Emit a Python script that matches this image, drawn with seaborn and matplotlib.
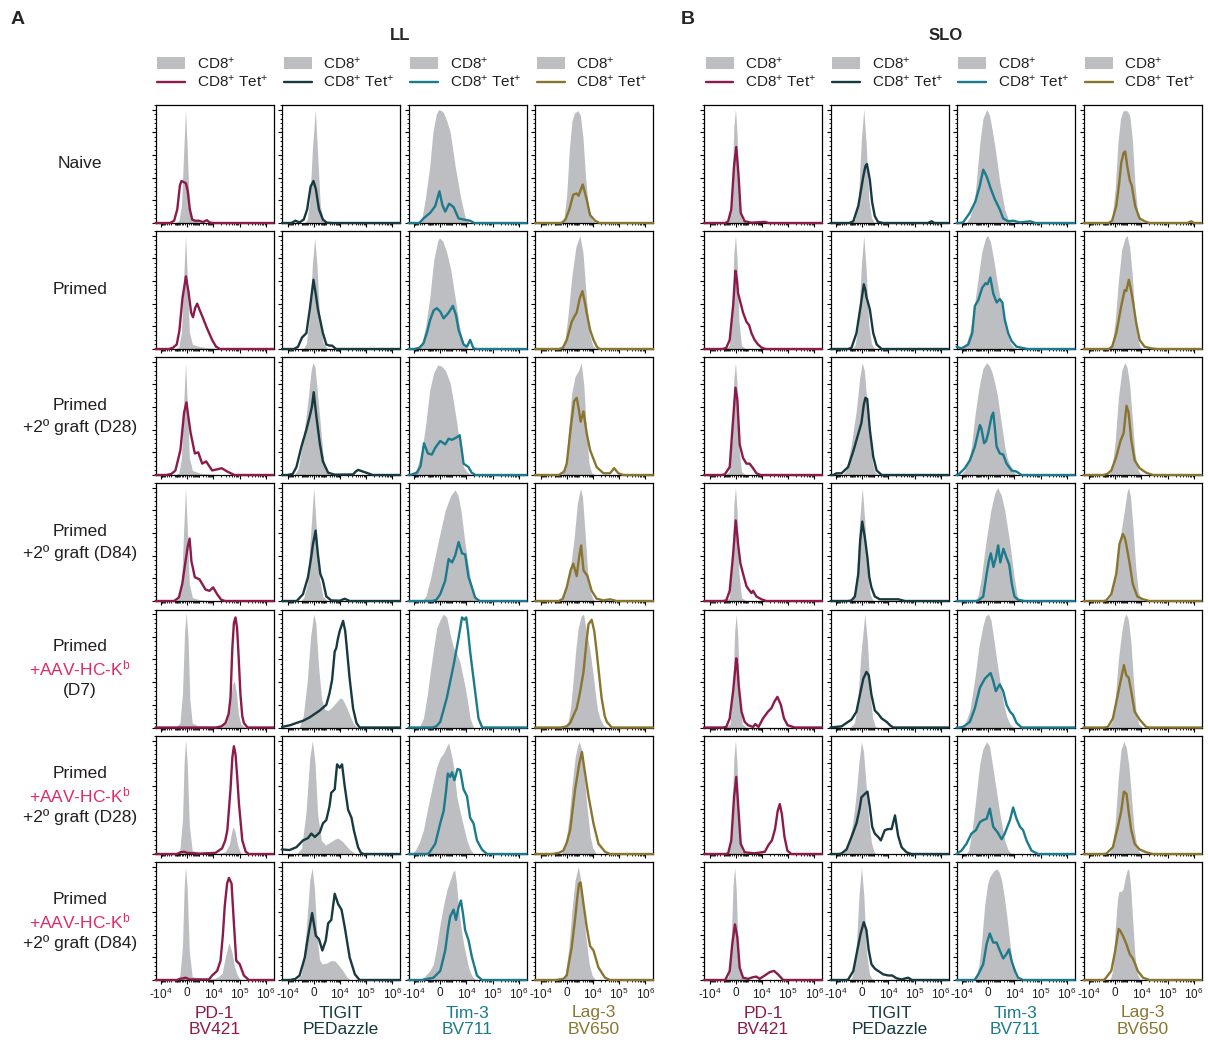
import matplotlib
matplotlib.use("Agg")
import matplotlib.pyplot as plt
import seaborn as sns
import numpy as np
import pandas as pd
from matplotlib.ticker import MultipleLocator
from matplotlib.lines import Line2D
from matplotlib.patches import Rectangle

# ---------------- data (x in display units: -10^4=0, 0=1, 10^4=2, 10^5=3, 10^6=4; y = % of max) ----
ROW_LINES = [
    [("Naive", False)],
    [("Primed", False)],
    [("Primed", False), ("+2º graft (D28)", False)],
    [("Primed", False), ("+2º graft (D84)", False)],
    [("Primed", False), ("+AAV-HC-K$^{b}$", True), ("(D7)", False)],
    [("Primed", False), ("+AAV-HC-K$^{b}$", True), ("+2º graft (D28)", False)],
    [("Primed", False), ("+AAV-HC-K$^{b}$", True), ("+2º graft (D84)", False)],
]
MARKERS = ["PD-1", "TIGIT", "Tim-3", "Lag-3"]
FLUORS = ["BV421", "PEDazzle", "BV711", "BV650"]
TISSUES = ["LL", "SLO"]
TICK_LABELS = ["-10$^{4}$", "0", "10$^{4}$", "10$^{5}$", "10$^{6}$"]

LL_PD1_CD8 = [
    [(0.55,0),(0.68,2),(0.78,15),(0.86,60),(0.935,100),(1.0,65),(1.08,15),(1.18,3),(1.4,1),(1.8,0)],
    [(0.55,0),(0.68,2),(0.78,15),(0.86,60),(0.935,100),(1.0,65),(1.08,15),(1.2,4),(1.5,2),(2.0,0.5),(2.3,0)],
    [(0.55,0),(0.68,2),(0.78,15),(0.86,60),(0.935,99),(1.0,65),(1.08,15),(1.2,4),(1.5,1.5),(2.0,0.5),(2.3,0)],
    [(0.55,0),(0.68,2),(0.78,15),(0.86,60),(0.935,100),(1.0,65),(1.08,15),(1.2,3),(1.5,1),(2.0,0)],
    [(0.55,0),(0.72,4),(0.82,30),(0.9,85),(0.96,101),(1.03,80),(1.1,25),(1.19,4),(1.4,1.5),(2.0,1),(2.3,1.5),(2.5,4),(2.62,15),(2.72,38),(2.8,41),(2.88,30),(2.95,12),(3.05,3),(3.2,0)],
    [(0.55,0),(0.72,4),(0.82,30),(0.88,80),(0.935,101),(1.0,80),(1.08,25),(1.19,3),(1.5,1),(2.2,0.5),(2.45,2),(2.6,8),(2.7,20),(2.75,24),(2.82,20),(2.92,8),(3.03,1),(3.2,0)],
    [(0.55,0),(0.72,4),(0.82,30),(0.88,80),(0.935,100),(1.0,80),(1.08,25),(1.19,3),(1.5,1.5),(2.0,1),(2.2,3),(2.33,6),(2.45,20),(2.59,33),(2.7,25),(2.8,12),(2.9,5),(3.0,1),(3.15,0)],
]
LL_PD1_TET = [
    [(0.35,0),(0.5,2),(0.62,12),(0.72,33),(0.78,37),(0.87,36),(0.95,35),(1.02,28),(1.1,12),(1.19,3),(1.3,2),(1.45,2),(1.6,0.8),(1.75,2.5),(1.85,0.5),(2.0,0)],
    [(0.3,0),(0.45,1),(0.6,4),(0.7,16),(0.82,45),(0.95,64),(1.05,50),(1.15,32),(1.22,28),(1.3,36),(1.38,40),(1.48,34),(1.57,29),(1.76,18),(1.95,8),(2.1,2),(2.25,0)],
    [(0.2,0),(0.4,1),(0.55,4),(0.74,22),(0.88,55),(0.97,64),(1.05,50),(1.13,37),(1.29,19),(1.42,20),(1.57,10),(1.72,12),(1.95,4),(2.15,5),(2.31,6),(2.53,3),(2.8,0)],
    [(0.5,0),(0.68,3),(0.81,15),(0.935,35),(1.02,48),(1.09,55),(1.16,35),(1.29,21),(1.47,19),(1.7,10),(1.85,9),(1.99,12),(2.14,6),(2.3,1),(2.45,0)],
    [(2.1,0),(2.3,1),(2.46,4),(2.58,12),(2.65,26),(2.72,70),(2.78,92),(2.84,97),(2.9,88),(2.95,67),(3.03,29),(3.1,10),(3.16,4),(3.3,0)],
    [(0.6,0),(0.75,1.5),(0.87,2),(1.0,1),(1.44,0.3),(2.08,1),(2.33,5),(2.45,12),(2.53,21),(2.65,57),(2.72,85),(2.78,95),(2.84,88),(2.9,70),(2.97,45),(3.1,12),(3.23,2),(3.35,0)],
    [(0.6,0),(0.75,1),(0.935,2),(1.1,0.5),(1.83,0.5),(1.95,4),(2.14,8),(2.27,17),(2.36,40),(2.43,65),(2.52,85),(2.59,90),(2.69,85),(2.78,50),(2.87,17),(3.0,14),(3.16,4),(3.35,0)],
]
LL_TIGIT_CD8 = [
    [(0.65,0),(0.75,3),(0.85,20),(0.95,65),(1.06,100),(1.15,60),(1.25,15),(1.38,2),(1.6,0)],
    [(0.6,0),(0.72,5),(0.85,30),(0.95,75),(1.04,98),(1.12,75),(1.22,30),(1.35,6),(1.5,1),(1.7,0)],
    [(0.25,0),(0.4,5),(0.55,25),(0.7,50),(0.8,70),(0.9,92),(0.97,99),(1.05,95),(1.15,70),(1.25,45),(1.35,19),(1.45,5),(1.6,0)],
    [(0.5,0),(0.62,3),(0.75,15),(0.87,55),(1.0,100),(1.1,65),(1.22,20),(1.35,4),(1.5,0.5),(1.7,0)],
    [(0.45,0),(0.6,10),(0.75,40),(0.88,80),(1.0,100),(1.08,92),(1.18,55),(1.3,25),(1.42,16),(1.55,15),(1.7,18),(1.85,22),(2.0,26),(2.1,25),(2.25,18),(2.37,11),(2.5,4),(2.65,0)],
    [(0.35,0),(0.53,5),(0.7,35),(0.85,85),(0.95,100),(1.05,80),(1.15,35),(1.29,12),(1.45,8),(1.6,10),(1.8,13),(1.93,14),(2.1,11),(2.25,7),(2.37,4),(2.6,0)],
    [(0.35,0),(0.53,5),(0.7,40),(0.85,88),(0.94,99),(1.03,80),(1.12,40),(1.22,18),(1.32,14),(1.5,15),(1.65,17),(1.8,17),(1.95,13),(2.12,8),(2.25,3),(2.4,0)],
]
LL_TIGIT_TET = [
    [(0.15,0),(0.3,2),(0.45,0.5),(0.62,3),(0.75,12),(0.88,32),(0.99,37),(1.08,30),(1.2,12),(1.35,3),(1.5,0.3),(1.7,0)],
    [(0.25,0),(0.4,2),(0.55,10),(0.72,14),(0.85,35),(0.99,61),(1.08,48),(1.16,35),(1.35,14),(1.48,4),(1.6,3),(1.7,3),(1.85,0)],
    [(0.0,0),(0.2,1),(0.34,7),(0.53,25),(0.72,40),(0.85,52),(0.93,60),(1.0,73),(1.06,60),(1.1,52),(1.23,28),(1.35,12),(1.55,2),(1.8,0.3),(2.5,0.5),(2.6,3),(2.69,4.5),(2.88,3),(3.07,1.5),(3.25,0)],
    [(0.35,0),(0.59,6),(0.78,21),(0.9,38),(0.97,50),(1.07,62),(1.16,41),(1.25,24),(1.35,18),(1.48,4),(1.67,0.5),(2.0,0.3),(2.18,2),(2.37,0)],
    [(-0.21,0.5),(0.1,2),(0.34,4),(0.6,6),(0.85,9),(1.23,15),(1.48,20),(1.6,30),(1.7,42),(1.8,67),(1.86,70),(1.92,78),(1.99,85),(2.12,94),(2.2,85),(2.25,73),(2.37,43),(2.5,17),(2.63,4),(2.75,0)],
    [(-0.21,4),(0.08,3.5),(0.34,6),(0.59,12),(0.78,14),(0.91,18),(1.04,15),(1.23,19),(1.35,27),(1.48,30),(1.6,42),(1.67,54),(1.8,57),(1.89,79),(1.99,76),(2.08,79),(2.18,60),(2.31,39),(2.44,32),(2.53,21),(2.69,6),(2.8,1),(2.9,0)],
    [(0.1,0),(0.3,1),(0.46,4),(0.66,20),(0.78,38),(0.94,59),(1.08,39),(1.2,36),(1.33,26),(1.46,35),(1.55,50),(1.67,53),(1.8,76),(1.93,67),(2.06,62),(2.18,47),(2.37,20),(2.57,5),(2.75,0)],
]
LL_TIM3_CD8 = [
    [(0.2,0),(0.3,4),(0.43,21),(0.6,50),(0.72,80),(0.85,96),(0.94,100),(1.05,99),(1.13,97),(1.25,90),(1.38,80),(1.57,50),(1.79,21),(1.95,5),(2.1,0)],
    [(0.15,0),(0.3,5),(0.45,21),(0.6,45),(0.75,78),(0.9,95),(0.97,98),(1.1,95),(1.25,85),(1.4,70),(1.57,45),(1.75,18),(1.9,4),(2.05,0)],
    [(-0.1,0),(0.1,5),(0.3,22),(0.45,45),(0.6,75),(0.75,90),(0.9,97),(1.05,96),(1.2,92),(1.38,81),(1.5,65),(1.63,46),(1.75,25),(1.89,7),(2.05,2),(2.2,0)],
    [(0.3,0),(0.45,4),(0.64,21),(0.9,50),(1.19,80),(1.4,93),(1.57,98),(1.68,93),(1.79,80),(1.95,50),(2.14,21),(2.27,6),(2.4,1),(2.5,0)],
    [(0.2,0),(0.36,8),(0.5,28),(0.62,49),(0.75,70),(0.87,88),(1.0,95),(1.12,100),(1.25,97),(1.38,82),(1.51,70),(1.63,65),(1.75,58),(1.83,49),(1.93,38),(2.02,26),(2.14,8),(2.27,0)],
    [(-0.1,0),(0.04,3),(0.2,10),(0.36,21),(0.5,38),(0.62,51),(0.75,65),(0.87,77),(1.0,85),(1.13,89),(1.25,95),(1.32,98),(1.42,88),(1.51,77),(1.63,51),(1.73,40),(1.83,30),(2.02,12),(2.15,4),(2.27,0)],
    [(0.25,0),(0.4,3),(0.6,8),(0.74,14),(0.87,30),(1.0,50),(1.12,65),(1.25,79),(1.38,88),(1.48,95),(1.55,97),(1.62,85),(1.7,64),(1.8,45),(1.89,32),(2.08,11),(2.2,4),(2.35,0)],
]
LL_TIM3_TET = [
    [(0.2,0),(0.36,4),(0.62,9),(0.81,15),(0.97,28),(1.08,16),(1.19,10),(1.34,17),(1.51,14),(1.7,4),(1.9,3),(2.14,2),(2.3,0)],
    [(0.0,0),(0.2,1),(0.36,5),(0.5,15),(0.62,26),(0.75,34),(0.87,36),(1.0,33),(1.13,27),(1.32,32),(1.48,38),(1.6,30),(1.7,17),(1.89,4),(2.02,2),(2.14,8),(2.27,0.5),(2.4,0)],
    [(-0.15,0),(0.11,2),(0.25,8),(0.38,28),(0.53,19),(0.68,18),(0.81,24),(1.0,30),(1.19,27),(1.32,32),(1.45,31),(1.61,33),(1.74,35),(1.82,22),(1.89,10),(2.08,7),(2.2,2),(2.35,0)],
    [(0.7,0),(0.85,1),(1.0,6),(1.19,18),(1.32,37),(1.45,34),(1.57,40),(1.7,52),(1.83,42),(1.95,41),(2.08,21),(2.21,12),(2.33,3),(2.5,0)],
    [(0.7,0),(0.85,1),(1.0,5),(1.25,26),(1.51,55),(1.7,79),(1.83,97),(1.92,95),(1.99,97),(2.06,85),(2.14,67),(2.33,32),(2.46,8),(2.6,0)],
    [(0.55,0),(0.81,9),(1.0,27),(1.13,38),(1.22,55),(1.29,71),(1.38,68),(1.45,72),(1.54,65),(1.66,75),(1.76,74),(1.89,57),(2.02,51),(2.14,32),(2.27,27),(2.4,12),(2.59,4),(2.78,0)],
    [(0.3,0),(0.74,2),(1.0,8),(1.19,26),(1.3,45),(1.38,56),(1.51,62),(1.6,53),(1.7,64),(1.79,70),(1.87,58),(1.95,44),(2.08,35),(2.21,20),(2.4,4),(2.59,0)],
]
LL_LAG3_CD8 = [
    [(0.8,0),(0.9,5),(1.0,25),(1.1,65),(1.2,90),(1.3,97),(1.42,99),(1.52,95),(1.62,75),(1.72,40),(1.82,15),(1.95,3),(2.1,0)],
    [(0.8,0),(0.92,5),(1.05,30),(1.2,65),(1.35,90),(1.5,100),(1.62,85),(1.75,45),(1.88,12),(2.0,3),(2.15,0)],
    [(0.8,0),(0.95,6),(1.06,37),(1.19,72),(1.32,87),(1.45,92),(1.55,99),(1.65,80),(1.75,40),(1.85,10),(1.95,2),(2.1,0)],
    [(0.75,0),(0.9,5),(1.05,22),(1.16,33),(1.28,55),(1.4,85),(1.52,99),(1.6,92),(1.7,60),(1.8,25),(1.9,8),(2.02,1),(2.15,0),(2.6,0.5),(2.8,0)],
    [(0.9,0),(1.05,5),(1.15,18),(1.25,43),(1.35,70),(1.44,88),(1.55,98),(1.64,100),(1.75,85),(1.89,67),(2.0,48),(2.08,32),(2.18,15),(2.27,8),(2.4,2),(2.55,0)],
    [(0.8,0),(0.95,8),(1.08,30),(1.2,60),(1.32,85),(1.42,96),(1.48,99),(1.56,92),(1.66,70),(1.78,40),(1.9,15),(2.0,5),(2.14,0)],
    [(0.8,0),(0.95,6),(1.08,28),(1.2,62),(1.32,88),(1.44,100),(1.52,90),(1.62,65),(1.72,40),(1.85,15),(1.97,4),(2.1,0)],
]
LL_LAG3_TET = [
    [(0.8,0),(0.95,3),(1.1,12),(1.25,25),(1.38,26),(1.45,24),(1.61,34),(1.76,21),(1.89,7),(2.08,2),(2.25,0)],
    [(0.7,0),(0.85,1),(1.0,8),(1.19,24),(1.3,29),(1.38,32),(1.5,45),(1.6,51),(1.7,40),(1.76,32),(1.89,17),(2.02,8),(2.15,2),(2.25,0)],
    [(0.7,0),(0.9,3),(1.0,10),(1.16,43),(1.28,65),(1.38,68),(1.46,58),(1.53,47),(1.64,56),(1.76,37),(1.89,22),(2.14,7),(2.4,1.5),(2.65,1.5),(2.81,6),(2.97,1.5),(3.16,0)],
    [(0.7,0),(0.85,2),(1.0,12),(1.15,27),(1.25,33),(1.38,22),(1.48,40),(1.55,49),(1.64,27),(1.79,22),(1.95,9),(2.14,2),(2.4,0.5),(2.65,1.5),(2.9,0)],
    [(0.8,0),(1.0,1),(1.13,4),(1.38,17),(1.5,30),(1.64,49),(1.75,75),(1.83,91),(1.95,95),(2.05,85),(2.14,67),(2.33,26),(2.45,10),(2.53,5),(2.72,0)],
    [(0.45,0),(0.7,1),(0.87,3),(1.0,10),(1.13,21),(1.32,57),(1.48,80),(1.58,90),(1.7,71),(1.83,51),(2.02,27),(2.21,9),(2.46,2),(2.65,0)],
    [(0.6,0),(0.87,1),(1.0,4),(1.19,29),(1.32,54),(1.4,72),(1.47,85),(1.53,86),(1.64,67),(1.76,47),(1.89,30),(2.02,26),(2.21,11),(2.46,2),(2.65,0)],
]

SLO_PD1_CD8 = [
    [(0.6,0),(0.75,3),(0.85,30),(0.93,85),(0.99,100),(1.05,80),(1.12,25),(1.22,3),(1.4,0)],
    [(0.6,0),(0.75,3),(0.85,30),(0.93,85),(0.99,100),(1.05,80),(1.12,25),(1.22,3),(1.4,0)],
    [(0.6,0),(0.75,3),(0.85,30),(0.93,85),(0.99,99),(1.05,80),(1.12,25),(1.22,3),(1.4,0)],
    [(0.6,0),(0.75,3),(0.85,30),(0.93,85),(0.99,100),(1.05,80),(1.12,25),(1.22,3),(1.4,0)],
    [(0.6,0),(0.78,3),(0.88,30),(0.96,85),(1.02,100),(1.08,80),(1.15,25),(1.25,3),(1.4,0)],
    [(0.6,0),(0.75,3),(0.85,30),(0.93,85),(0.99,100),(1.05,80),(1.12,25),(1.22,3),(1.4,0)],
    [(0.6,0),(0.72,3),(0.82,30),(0.9,85),(0.96,99),(1.02,80),(1.09,25),(1.19,3),(1.4,0)],
]
SLO_PD1_TET = [
    [(0.6,0),(0.71,1.5),(0.83,12),(0.935,50),(1.02,67),(1.08,50),(1.11,41),(1.19,9),(1.34,1.5),(1.6,0.3),(2.11,1),(2.25,0)],
    [(0.5,0),(0.64,1),(0.77,8),(0.9,38),(0.99,69),(1.05,60),(1.09,49),(1.18,41),(1.28,32),(1.41,24),(1.51,21),(1.6,14),(1.72,8),(1.85,4),(2.0,1),(2.15,0)],
    [(0.45,0),(0.58,0.5),(0.77,7),(0.9,49),(0.99,77),(1.06,67),(1.15,27),(1.28,15),(1.41,10),(1.53,10),(1.66,6),(1.79,1.5),(1.95,0)],
    [(0.5,0),(0.64,0.5),(0.77,9),(0.9,41),(1.0,71),(1.06,58),(1.09,50),(1.18,33),(1.28,24),(1.41,13),(1.5,10),(1.6,7),(1.66,9),(1.79,4),(1.98,1.5),(2.17,0)],
    [(0.5,0),(0.64,0.5),(0.77,8),(0.9,32),(1.02,61),(1.06,55),(1.11,38),(1.22,14),(1.34,5),(1.47,2),(1.66,0.5),(1.75,3),(1.87,0.5),(2.04,8),(2.23,14),(2.36,17),(2.48,23),(2.59,27),(2.72,20),(2.84,8),(2.98,2),(3.25,0)],
    [(0.6,0),(0.71,0.5),(0.83,12),(0.935,50),(1.02,68),(1.09,44),(1.19,9),(1.34,1.5),(1.72,0.6),(1.91,1.2),(2.11,2),(2.25,8),(2.38,12),(2.5,22),(2.6,38),(2.68,44),(2.76,35),(2.86,15),(2.97,3),(3.12,0)],
    [(0.6,0),(0.77,8),(0.87,32),(0.97,49),(1.06,38),(1.15,11),(1.28,2),(1.47,1),(1.66,2.5),(1.79,3),(1.91,1),(2.11,4),(2.3,7),(2.46,8),(2.61,5),(2.81,0)],
]
SLO_TIGIT_CD8 = [
    [(0.6,0),(0.72,3),(0.85,20),(0.97,75),(1.06,100),(1.15,70),(1.25,22),(1.35,5),(1.45,1),(1.6,0)],
    [(0.6,0),(0.72,3),(0.85,20),(0.97,75),(1.06,100),(1.15,70),(1.25,22),(1.35,5),(1.45,1),(1.6,0)],
    [(0.25,0),(0.4,5),(0.59,28),(0.78,58),(0.9,85),(1.0,99),(1.08,92),(1.18,65),(1.28,35),(1.38,12),(1.48,3),(1.6,0)],
    [(0.55,0),(0.66,3),(0.78,20),(0.9,70),(1.0,100),(1.1,70),(1.2,25),(1.3,6),(1.4,1),(1.5,0)],
    [(0.55,0),(0.7,4),(0.82,20),(0.95,65),(1.1,100),(1.2,75),(1.3,30),(1.4,8),(1.5,1),(1.6,0)],
    [(0.25,0),(0.4,5),(0.59,21),(0.7,38),(0.78,56),(0.88,82),(0.97,99),(1.05,90),(1.15,60),(1.25,30),(1.35,10),(1.45,2),(1.55,0)],
    [(0.5,0),(0.6,2),(0.75,20),(0.88,75),(0.97,100),(1.06,75),(1.16,25),(1.28,5),(1.38,1),(1.5,0)],
]
SLO_TIGIT_TET = [
    [(0.5,0),(0.66,1.5),(0.85,15),(1.04,41),(1.12,50),(1.18,52),(1.29,38),(1.38,18),(1.48,6),(1.6,1),(1.8,0),(3.5,0),(3.65,1.5),(3.75,0)],
    [(0.45,0),(0.59,1),(0.78,14),(0.94,38),(1.06,57),(1.12,52),(1.16,46),(1.29,35),(1.42,14),(1.55,4),(1.74,0)],
    [(-0.1,0),(0.02,1.5),(0.21,1.5),(0.46,7),(0.66,21),(0.82,34),(0.97,46),(1.06,62),(1.12,68),(1.19,67),(1.29,40),(1.42,16),(1.55,4),(1.74,0)],
    [(0.45,0),(0.59,0.5),(0.72,4),(0.85,24),(0.92,53),(1.0,70),(1.1,56),(1.2,38),(1.27,21),(1.35,12),(1.48,4),(1.67,1.5),(2.37,1.5),(2.63,0)],
    [(-0.21,0),(0.21,1),(0.59,7),(0.78,14),(0.94,32),(1.04,43),(1.16,49),(1.25,46),(1.35,29),(1.48,15),(1.61,12),(1.74,8),(1.93,5),(2.06,2),(2.18,0)],
    [(0.1,0),(0.21,0.5),(0.4,4),(0.59,15),(0.78,27),(0.9,40),(0.97,50),(1.1,53),(1.2,55),(1.29,41),(1.38,24),(1.48,18),(1.61,15),(1.71,12),(1.86,21),(1.99,22),(2.12,22),(2.25,34),(2.37,16),(2.5,6),(2.69,1.5),(2.88,0)],
    [(0.35,0),(0.46,0.3),(0.66,8),(0.81,26),(0.94,41),(1.06,51),(1.16,44),(1.25,26),(1.35,14),(1.48,10),(1.61,8),(1.8,5),(1.99,4),(2.14,4),(2.31,1.5),(2.5,0.5),(2.75,2),(2.9,0)],
]
SLO_TIM3_CD8 = [
    [(0.15,0),(0.3,5),(0.42,15),(0.51,27),(0.6,50),(0.68,71),(0.8,92),(0.94,100),(1.05,95),(1.15,82),(1.25,68),(1.35,52),(1.44,36),(1.55,22),(1.63,12),(1.75,4),(1.85,1),(2.0,0)],
    [(0.0,0),(0.15,4),(0.3,15),(0.45,35),(0.6,60),(0.75,85),(0.9,98),(0.97,100),(1.08,95),(1.2,80),(1.32,62),(1.45,45),(1.58,28),(1.7,14),(1.85,5),(2.0,1),(2.15,0)],
    [(-0.05,0),(0.1,4),(0.25,12),(0.36,25),(0.49,52),(0.6,70),(0.68,81),(0.8,94),(0.94,99),(1.05,96),(1.15,90),(1.25,81),(1.35,70),(1.44,55),(1.55,38),(1.63,25),(1.72,15),(1.83,9),(2.0,2),(2.1,0)],
    [(0.5,0),(0.62,5),(0.74,21),(0.9,50),(1.1,80),(1.25,95),(1.36,100),(1.5,93),(1.63,80),(1.83,50),(1.99,21),(2.1,5),(2.2,0)],
    [(0.0,0),(0.11,3),(0.3,15),(0.5,45),(0.65,72),(0.8,90),(0.9,98),(1.0,100),(1.1,95),(1.2,80),(1.32,60),(1.45,40),(1.58,22),(1.7,10),(1.83,3),(1.95,0.5),(2.1,0)],
    [(0.15,0),(0.25,3),(0.38,20),(0.49,41),(0.58,60),(0.68,80),(0.8,93),(0.94,99),(1.05,95),(1.15,80),(1.25,65),(1.35,50),(1.44,36),(1.55,22),(1.63,12),(1.75,4),(1.85,1),(2.0,0)],
    [(0.45,0),(0.55,3),(0.65,14),(0.74,32),(0.87,67),(0.98,85),(1.06,91),(1.2,96),(1.32,98),(1.42,95),(1.51,88),(1.6,75),(1.7,58),(1.8,38),(1.89,20),(2.02,5),(2.14,0)],
]
SLO_TIM3_TET = [
    [(-0.1,0),(0.04,0.5),(0.3,9),(0.51,19),(0.68,33),(0.81,47),(0.94,41),(1.1,30),(1.25,21),(1.44,12),(1.57,4),(1.76,1.5),(1.95,2),(2.2,0.5),(2.6,1.5),(2.8,0)],
    [(-0.21,2),(-0.02,0.5),(0.24,4),(0.39,14),(0.49,38),(0.62,43),(0.77,54),(0.9,58),(0.97,57),(1.08,63),(1.19,49),(1.32,41),(1.44,44),(1.54,41),(1.63,26),(1.76,14),(1.89,7),(2.08,2),(2.5,0)],
    [(-0.15,0),(0.11,6),(0.3,13),(0.49,25),(0.62,38),(0.68,44),(0.74,41),(0.84,28),(0.92,30),(1.0,37),(1.13,52),(1.19,55),(1.25,42),(1.32,25),(1.44,19),(1.57,18),(1.7,10),(1.89,4),(2.08,3),(2.27,0)],
    [(0.5,0),(0.62,0.3),(0.81,4),(0.94,24),(1.03,36),(1.1,42),(1.2,30),(1.29,38),(1.38,49),(1.46,34),(1.58,46),(1.7,38),(1.8,32),(1.9,15),(2.0,4),(2.14,1),(2.4,0)],
    [(-0.1,0),(0.04,0.5),(0.3,5),(0.49,17),(0.68,35),(0.87,43),(1.0,46),(1.09,48),(1.19,41),(1.29,32),(1.44,38),(1.57,32),(1.7,20),(1.83,14),(1.95,11),(2.08,4),(2.27,0)],
    [(-0.21,0),(-0.02,3),(0.17,9),(0.36,18),(0.53,21),(0.68,28),(0.81,30),(0.94,31),(1.06,40),(1.19,24),(1.36,19),(1.51,13),(1.63,18),(1.83,30),(1.95,41),(2.08,31),(2.21,24),(2.33,21),(2.46,12),(2.65,3),(2.9,0)],
    [(0.4,0),(0.49,0.3),(0.62,5),(0.81,14),(0.94,32),(1.06,41),(1.19,33),(1.32,33),(1.44,26),(1.57,19),(1.7,23),(1.79,27),(1.89,17),(2.02,8),(2.14,2),(2.33,0)],
]
SLO_LAG3_CD8 = [
    [(0.75,0),(0.88,5),(1.0,30),(1.1,70),(1.2,92),(1.3,99),(1.45,99),(1.55,95),(1.65,75),(1.75,35),(1.85,10),(1.95,2),(2.1,0)],
    [(0.75,0),(0.88,5),(1.0,25),(1.12,60),(1.25,88),(1.38,98),(1.45,100),(1.55,90),(1.65,65),(1.75,30),(1.85,10),(1.95,2),(2.1,0)],
    [(0.75,0),(0.88,6),(1.0,30),(1.12,68),(1.25,92),(1.36,99),(1.45,95),(1.55,80),(1.65,50),(1.75,20),(1.85,6),(1.95,1),(2.1,0)],
    [(0.7,0),(0.85,5),(1.0,25),(1.1,45),(1.23,62),(1.35,80),(1.45,96),(1.51,100),(1.58,92),(1.68,65),(1.78,30),(1.88,8),(2.0,1),(2.1,0)],
    [(0.75,0),(0.88,5),(1.0,25),(1.12,60),(1.25,85),(1.35,97),(1.42,100),(1.5,95),(1.6,75),(1.7,40),(1.8,12),(1.9,3),(2.05,0)],
    [(0.75,0),(0.88,5),(1.0,28),(1.12,68),(1.22,92),(1.33,99),(1.42,94),(1.52,78),(1.62,50),(1.72,22),(1.82,7),(1.93,1),(2.05,0)],
    [(0.8,0),(0.9,8),(1.0,44),(1.08,70),(1.14,78),(1.22,78),(1.3,80),(1.38,90),(1.46,97),(1.51,98),(1.58,85),(1.66,55),(1.75,22),(1.84,6),(1.95,0)],
]
SLO_LAG3_TET = [
    [(0.75,0),(0.88,2),(1.04,15),(1.15,35),(1.23,53),(1.32,62),(1.38,63),(1.46,50),(1.55,38),(1.63,33),(1.76,15),(1.93,4),(2.12,1.5),(2.3,0),(3.75,0),(3.9,1.5),(4.0,0)],
    [(0.75,0),(0.88,2),(1.04,14),(1.23,38),(1.36,52),(1.42,51),(1.52,61),(1.6,52),(1.67,43),(1.8,23),(1.93,8),(2.12,2),(2.38,0.5),(2.6,0)],
    [(0.55,0),(0.7,1),(0.85,4),(1.04,16),(1.2,30),(1.32,37),(1.43,61),(1.51,55),(1.61,31),(1.74,13),(1.93,6),(2.18,2),(2.44,0)],
    [(0.55,0),(0.66,0.5),(0.85,6),(1.04,24),(1.16,50),(1.29,59),(1.36,56),(1.42,50),(1.55,33),(1.67,15),(1.84,4),(2.06,1.5),(2.3,0)],
    [(0.6,0),(0.72,0.5),(0.91,8),(1.1,29),(1.25,46),(1.33,55),(1.42,46),(1.51,44),(1.61,32),(1.74,14),(1.93,7),(2.18,0.5),(2.3,0)],
    [(0.55,0),(0.66,0.3),(0.91,6),(1.1,24),(1.23,38),(1.33,55),(1.43,53),(1.52,36),(1.61,21),(1.74,9),(1.93,4),(2.18,1.5),(2.44,0)],
    [(0.5,0),(0.59,0.3),(0.85,8),(1.0,26),(1.13,45),(1.2,43),(1.29,39),(1.42,32),(1.55,23),(1.67,19),(1.76,14),(1.86,8),(2.06,2),(2.31,0)],
]

# ---------------- style ----------------
COLORS = ["#8C1B4C", "#163A40", "#1B7A8C", "#8A7530"]
GRAY = "#BDBEC1"
PINK = "#E0296A"
TEXT = "#231F20"

sns.set_theme(style="ticks")
plt.rcParams["font.family"] = ["Liberation Sans", "DejaVu Sans"]
plt.rcParams["mathtext.fontset"] = "custom"
plt.rcParams["mathtext.rm"] = "Liberation Sans"
plt.rcParams["mathtext.it"] = "Liberation Sans:italic"
plt.rcParams["mathtext.bf"] = "Liberation Sans:bold"
plt.rcParams["mathtext.default"] = "regular"

W, H = 1208, 1043
fig = plt.figure(figsize=(W / 100, H / 100), dpi=100)

def fx(x):
    return x / W

def fy(y):
    return 1 - y / H

XMIN, XMAX = -0.21, 4.29
COL_LEFT = [155.5, 282, 408.5, 535, 704, 830.5, 956.5, 1083.5]
ROW_TOP = [105, 231, 357, 483, 609.5, 736, 862]
PW, PH = 118, 118

DATA = {
    "LL": [(LL_PD1_CD8, LL_PD1_TET), (LL_TIGIT_CD8, LL_TIGIT_TET),
           (LL_TIM3_CD8, LL_TIM3_TET), (LL_LAG3_CD8, LL_LAG3_TET)],
    "SLO": [(SLO_PD1_CD8, SLO_PD1_TET), (SLO_TIGIT_CD8, SLO_TIGIT_TET),
            (SLO_TIM3_CD8, SLO_TIM3_TET), (SLO_LAG3_CD8, SLO_LAG3_TET)],
}

# minor tick positions in display units (biexponential-like axis)
c = 300.0
lin = np.array([100, 200, 300, 400, 500, 600, 700, 800, 900,
                1000, 2000, 3000, 4000, 5000, 6000, 7000, 8000, 9000], float)
near = np.arcsinh(lin / c) / np.arcsinh(1e4 / c)
minor = list(1 - near) + list(1 + near)
for k in (2, 3):
    minor += [k + np.log10(m) for m in range(2, 10)]
minor = [m for m in minor if XMIN < m < XMAX]


def pad(pts):
    xs = [p[0] for p in pts]
    ys = [p[1] for p in pts]
    if xs[0] > XMIN:
        xs = [XMIN] + xs
        ys = [0.0] + ys
    if xs[-1] < XMAX:
        xs = xs + [XMAX]
        ys = ys + [0.0]
    return np.array(xs), np.array(ys)


for t, tissue in enumerate(TISSUES):
    for m in range(4):
        ci = t * 4 + m
        gray_list, tet_list = DATA[tissue][m]
        for r in range(7):
            left = COL_LEFT[ci]
            top = ROW_TOP[r]
            ax = fig.add_axes([fx(left), fy(top + PH), PW / W, PH / H])
            gx, gy = pad(gray_list[r])
            ax.fill_between(gx, 0, gy, color=GRAY, lw=0, zorder=1)
            tx, ty = pad(tet_list[r])
            df = pd.DataFrame({"x": tx, "y": ty})
            sns.lineplot(data=df, x="x", y="y", ax=ax, color=COLORS[m], lw=1.7,
                         sort=False, estimator=None, legend=False, zorder=3,
                         clip_on=False)
            ax.set_xlim(XMIN, XMAX)
            ax.set_ylim(0, 104)
            ax.set_xlabel("")
            ax.set_ylabel("")
            ax.set_xticks([0, 1, 2, 3, 4])
            ax.set_xticks(minor, minor=True)
            ax.set_yticks([0, 20, 40, 60, 80, 100])
            ax.yaxis.set_minor_locator(MultipleLocator(4))
            ax.tick_params(which="major", length=3, width=0.8, color="black",
                           direction="out", labelleft=False, pad=2)
            ax.tick_params(which="minor", length=1.6, width=0.6, color="black",
                           direction="out")
            for sp in ax.spines.values():
                sp.set_linewidth(0.9)
                sp.set_color("black")
            if r == 6:
                ax.set_xticklabels(TICK_LABELS, fontsize=8.5, color=TEXT)
            else:
                ax.tick_params(labelbottom=False)

        # legend above column
        left = COL_LEFT[ci]
        fig.add_artist(Rectangle((fx(left + 1.5), fy(68.5)), 28 / W, 11.5 / H,
                                 transform=fig.transFigure, color=GRAY, lw=0))
        fig.add_artist(Line2D([fx(left + 1.5), fx(left + 29.5)], [fy(81.5), fy(81.5)],
                              transform=fig.transFigure, color=COLORS[m], lw=1.7))
        fig.text(fx(left + 41), fy(63.5), "CD8$^{+}$", fontsize=11, color=TEXT,
                 ha="left", va="center")
        fig.text(fx(left + 41), fy(81.5), "CD8$^{+}$ Tet$^{+}$", fontsize=11, color=TEXT,
                 ha="left", va="center")
        # marker label below column
        cx = left + PW / 2
        fig.text(fx(cx), fy(1013), MARKERS[m], fontsize=12.5, color=COLORS[m],
                 ha="center", va="center")
        fig.text(fx(cx), fy(1030), FLUORS[m], fontsize=12.5, color=COLORS[m],
                 ha="center", va="center")

# tissue titles and panel letters
fig.text(fx(400), fy(35), "LL", fontsize=12, fontweight="bold", ha="center", va="center")
fig.text(fx(946), fy(35), "SLO", fontsize=12, fontweight="bold", ha="center", va="center")
fig.text(fx(18), fy(19), "A", fontsize=14, fontweight="bold", ha="center", va="center")
fig.text(fx(688), fy(19), "B", fontsize=14, fontweight="bold", ha="center", va="center")

# row labels
for r, lines in enumerate(ROW_LINES):
    cy = ROW_TOP[r] + PH / 2
    n = len(lines)
    for i, (txt, pink) in enumerate(lines):
        y = cy + (i - (n - 1) / 2) * 22
        fig.text(fx(80), fy(y), txt, fontsize=12.5, color=PINK if pink else TEXT,
                 ha="center", va="center")

fig.savefig("out.png", dpi=100)
